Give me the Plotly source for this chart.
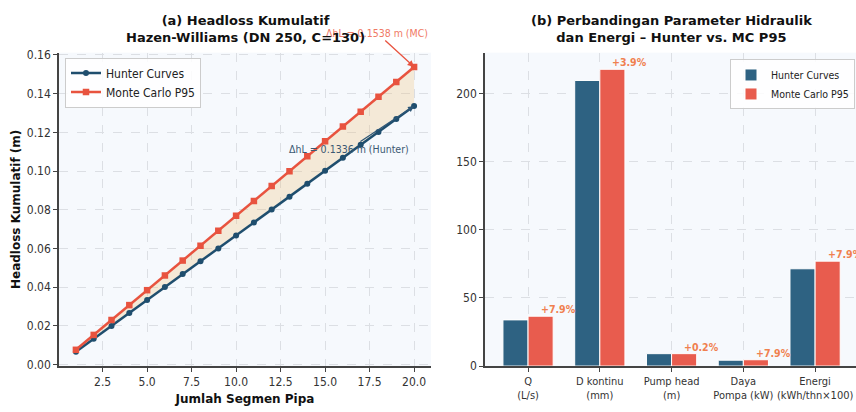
import plotly.graph_objects as go

# ---- data ----
segments = list(range(1, 21))
hunter_hl = [0.0067, 0.0134, 0.0200, 0.0267, 0.0334, 0.0401, 0.0468, 0.0534, 0.0601, 0.0668,
             0.0735, 0.0802, 0.0868, 0.0935, 0.1002, 0.1069, 0.1136, 0.1202, 0.1269, 0.1336]
mc_hl = [0.0077, 0.0154, 0.0231, 0.0308, 0.0385, 0.0461, 0.0538, 0.0615, 0.0692, 0.0769,
         0.0846, 0.0923, 0.1000, 0.1077, 0.1154, 0.1230, 0.1307, 0.1384, 0.1461, 0.1538]

params = ["Q<br>(L/s)", "D kontinu<br>(mm)", "Pump head<br>(m)", "Daya<br>Pompa (kW)", "Energi<br>(kWh/thn×100)"]
hunter_vals = [33.9, 209.6, 9.1, 4.3, 71.4]
mc_vals = [36.6, 217.8, 9.12, 4.64, 77.0]
pct_labels = ["+7.9%", "+3.9%", "+0.2%", "+7.9%", "+7.9%"]
x_left_ticks = [2.5, 5.0, 7.5, 10.0, 12.5, 15.0, 17.5, 20.0]
y_left_ticks = [0.00, 0.02, 0.04, 0.06, 0.08, 0.10, 0.12, 0.14, 0.16]
y_right_ticks = [0, 50, 100, 150, 200]

C_H_LINE = "#1f4e6e"
C_MC_LINE = "#e8533f"
C_H_BAR = "#2e6282"
C_MC_BAR = "#e85c4e"
FONT = "DejaVu Sans Condensed"
FONTB = "DejaVu Sans"

fig = go.Figure()
idx = list(range(len(params)))

# fill between
fig.add_trace(go.Scatter(x=segments, y=hunter_hl, mode="lines", line=dict(width=0, color="rgba(0,0,0,0)"),
                         showlegend=False, hoverinfo="skip", xaxis="x", yaxis="y"))
fig.add_trace(go.Scatter(x=segments, y=mc_hl, mode="lines", line=dict(width=0, color="rgba(0,0,0,0)"),
                         fill="tonexty", fillcolor="rgba(240,195,130,0.30)",
                         showlegend=False, hoverinfo="skip", xaxis="x", yaxis="y"))
fig.add_trace(go.Scatter(x=segments, y=hunter_hl, mode="lines+markers", name="Hunter Curves",
                         line=dict(color=C_H_LINE, width=2.5), marker=dict(symbol="circle", size=6, color=C_H_LINE),
                         xaxis="x", yaxis="y", legend="legend"))
fig.add_trace(go.Scatter(x=segments, y=mc_hl, mode="lines+markers", name="Monte Carlo P95",
                         line=dict(color=C_MC_LINE, width=2.5), marker=dict(symbol="square", size=6.5, color=C_MC_LINE),
                         xaxis="x", yaxis="y", legend="legend"))

fig.add_trace(go.Bar(x=idx, y=hunter_vals, name="Hunter Curves", marker=dict(color=C_H_BAR, line=dict(color="white", width=1)),
                     xaxis="x2", yaxis="y2", legend="legend2"))
fig.add_trace(go.Bar(x=idx, y=mc_vals, name="Monte Carlo P95", marker=dict(color=C_MC_BAR, line=dict(color="white", width=1)),
                     xaxis="x2", yaxis="y2", legend="legend2"))

annotations = []
for i, (v, t) in enumerate(zip(mc_vals, pct_labels)):
    annotations.append(dict(x=i + 0.42, y=v, xref="x2", yref="y2", text="<b>" + t + "</b>", showarrow=False,
                            xanchor="center", yanchor="bottom", yshift=-1,
                            font=dict(family=FONT, size=10.5, color="#f0804f")))

annotations.append(dict(x=20, y=mc_hl[-1], xref="x", yref="y", text="ΔhL = 0.1538 m (MC)",
                        showarrow=True, arrowhead=2, arrowsize=1, arrowwidth=1.3, arrowcolor=C_MC_LINE,
                        ax=-37, ay=-34, font=dict(family=FONT, size=10.5, color="#f07a66")))
annotations.append(dict(x=20, y=hunter_hl[-1], xref="x", yref="y", text="ΔhL = 0.1336 m (Hunter)",
                        showarrow=True, arrowhead=2, arrowsize=1, arrowwidth=1.2, arrowcolor="#2d5676",
                        ax=-65, ay=43, font=dict(family=FONT, size=10.5, color="#3b5872")))

annotations.append(dict(x=245 / 856, y=1 - 26 / 412, xref="paper", yref="paper",
                        text="<b>(a) Headloss Kumulatif<br>Hazen-Williams (DN 250, C=130)</b>",
                        showarrow=False, xanchor="center", yanchor="middle",
                        font=dict(family=FONTB, size=13, color="#111")))
annotations.append(dict(x=671 / 856, y=1 - 26 / 412, xref="paper", yref="paper",
                        text="<b>(b) Perbandingan Parameter Hidraulik<br>dan Energi – Hunter vs. MC P95</b>",
                        showarrow=False, xanchor="center", yanchor="middle",
                        font=dict(family=FONTB, size=13, color="#111")))

axis_common = dict(showline=True, linecolor="#444", linewidth=1.5, ticks="outside", ticklen=4, tickcolor="#444",
                   showgrid=True, gridcolor="#dcdfe4", griddash="dash", gridwidth=0.8, zeroline=False,
                   tickfont=dict(family=FONT, size=12, color="#333"), mirror=False)

ydom = [40 / 412, 362 / 412]
axis_x2 = dict(axis_common)
axis_x2["tickfont"] = dict(family=FONT, size=11, color="#333")
fig.update_layout(
    width=856, height=412, margin=dict(l=0, r=0, t=0, b=0),
    paper_bgcolor="white", plot_bgcolor="#f6f9fd",
    barmode="group", bargap=0.3, bargroupgap=0.0,
    xaxis=dict(domain=[59 / 856, 431 / 856], range=[0.05, 20.95], tickvals=x_left_ticks,
               ticktext=[f"{v:.1f}" for v in x_left_ticks],
               title=dict(text="<b>Jumlah Segmen Pipa</b>", font=dict(family=FONTB, size=12, color="#111"), standoff=6),
               anchor="y", **axis_common),
    yaxis=dict(domain=ydom, range=[-0.0007, 0.1612], tickvals=y_left_ticks,
               ticktext=[f"{v:.2f}" for v in y_left_ticks],
               title=dict(text="<b>Headloss Kumulatif (m)</b>", font=dict(family=FONTB, size=12, color="#111"), standoff=4),
               anchor="x", **axis_common),
    xaxis2=dict(domain=[485 / 856, 1.0], range=[-0.6, 4.57], tickvals=idx, ticktext=params,
                ticklabeloverflow="allow", anchor="y2", **axis_x2),
    yaxis2=dict(domain=ydom, range=[0, 230], tickvals=y_right_ticks, anchor="x2", **axis_common),
    legend=dict(x=65 / 856, y=1 - 55 / 412, xanchor="left", yanchor="top", traceorder="normal",
                bgcolor="rgba(255,255,255,0.85)", bordercolor="#cccccc", borderwidth=1,
                font=dict(family=FONT, size=12, color="#222"), tracegroupgap=0),
    legend2=dict(x=855 / 856, y=1 - 57 / 412, xanchor="right", yanchor="top", traceorder="normal",
                 bgcolor="rgba(255,255,255,0.85)", bordercolor="#cccccc", borderwidth=1,
                 font=dict(family=FONT, size=10.5, color="#222"), tracegroupgap=0),
    annotations=annotations,
)

fig.write_html("out.html")
